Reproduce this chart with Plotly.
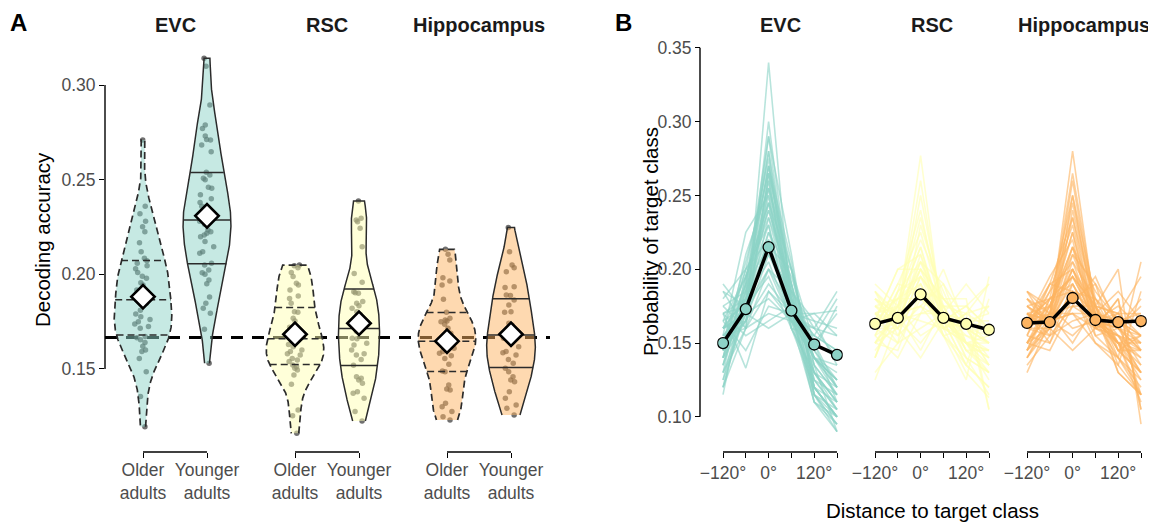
import numpy as np
import plotly.graph_objects as go

# ---------------- data ----------------
regions = ["EVC", "RSC", "Hippocampus"]
group_labels = ["Older<br>adults", "Younger<br>adults"]
chance = 1 / 6
acc_ticks = [0.15, 0.20, 0.25, 0.30]
acc_ticktext = ["0.15", "0.20", "0.25", "0.30"]

evc_older = [0.1195, 0.1354, 0.1486, 0.1556, 0.1592, 0.160, 0.162, 0.164, 0.1655, 0.1665,
             0.1671, 0.1715, 0.1724, 0.1738, 0.175, 0.1762, 0.1776, 0.179, 0.181, 0.1835,
             0.1847, 0.186, 0.188, 0.1917, 0.1944, 0.1955, 0.1979, 0.199, 0.201, 0.203, 0.2045,
             0.2058, 0.2072, 0.2085, 0.212, 0.2167, 0.2225, 0.2252, 0.228, 0.232, 0.236, 0.271]
evc_younger = [0.3141, 0.310, 0.2895, 0.2789, 0.2771, 0.2731, 0.2713, 0.271, 0.2683, 0.2648, 0.2539,
               0.2508, 0.240, 0.236, 0.2525, 0.250, 0.246, 0.2455, 0.242, 0.238, 0.2357, 0.233,
               0.231, 0.229, 0.228, 0.2265, 0.2234, 0.2225, 0.2217, 0.2208, 0.2199, 0.2173, 0.2146,
               0.212, 0.2111, 0.2058, 0.2049, 0.2023, 0.2009, 0.200, 0.197, 0.195, 0.188, 0.1847,
               0.1821, 0.1794, 0.171, 0.153]
rsc_older = [0.2049, 0.2046, 0.2035, 0.201, 0.1988, 0.1953, 0.1944, 0.1917, 0.1886, 0.1873, 0.1847,
             0.1803, 0.18, 0.1768, 0.1754, 0.172, 0.1715, 0.1706, 0.168, 0.1665, 0.1653, 0.163,
             0.1618, 0.160, 0.1592, 0.158, 0.1574, 0.1556, 0.1548, 0.1539, 0.1521, 0.1512, 0.1504,
             0.1495, 0.1468, 0.1419, 0.1283, 0.1253, 0.116]
rsc_younger = [0.2387, 0.2296, 0.2287, 0.2278, 0.2243, 0.2146, 0.2005, 0.1958, 0.1908, 0.1903,
               0.19, 0.1856, 0.1847, 0.1834, 0.1821, 0.1803, 0.1789, 0.1732, 0.1706, 0.170, 0.1662,
               0.166, 0.1636, 0.1627, 0.16, 0.158, 0.1574, 0.155, 0.152, 0.1459, 0.1451, 0.1442,
               0.1424, 0.138, 0.1372, 0.1345, 0.1275, 0.1225]
hip_older = [0.2132, 0.2106, 0.2076, 0.1982, 0.1965, 0.1944, 0.1868, 0.18, 0.1768, 0.1759,
             0.1754, 0.175, 0.1736, 0.1715, 0.1689, 0.1676, 0.1662, 0.1645, 0.163, 0.1609, 0.1592,
             0.1583, 0.157, 0.1556, 0.1525, 0.1489, 0.1486, 0.1415, 0.1394, 0.1389, 0.1319, 0.1301,
             0.1275, 0.1248, 0.1231]
hip_younger = [0.2247, 0.212, 0.2049, 0.2035, 0.2014, 0.1935, 0.193, 0.1891, 0.1888, 0.1865,
               0.1838, 0.1803, 0.18, 0.1741, 0.1732, 0.170, 0.168, 0.1671, 0.1662, 0.165, 0.1618,
               0.1592, 0.1586, 0.1574, 0.155, 0.153, 0.1504, 0.1486, 0.1459, 0.1442, 0.1433, 0.138,
               0.1345, 0.131, 0.1292, 0.1257]

distances = [-120, -60, 0, 60, 120, 180]
dist_ticktext = ["\u2212120°", "", "0°", "", "120°", ""]
prob_ticks = [0.10, 0.15, 0.20, 0.25, 0.30, 0.35]
prob_ticktext = ["0.10", "0.15", "0.20", "0.25", "0.30", "0.35"]

evc_mean = [0.150, 0.173, 0.215, 0.172, 0.149, 0.142]
rsc_mean = [0.163, 0.167, 0.183, 0.167, 0.163, 0.159]
hip_mean = [0.1636, 0.1642, 0.1805, 0.1656, 0.1642, 0.1649]

evc_subjects = [
    [0.120, 0.160, 0.340, 0.170, 0.115, 0.095], [0.130, 0.170, 0.300, 0.180, 0.120, 0.100],
    [0.140, 0.190, 0.280, 0.170, 0.120, 0.100], [0.150, 0.200, 0.275, 0.165, 0.110, 0.100],
    [0.125, 0.185, 0.270, 0.190, 0.125, 0.105], [0.145, 0.180, 0.260, 0.180, 0.130, 0.105],
    [0.140, 0.210, 0.255, 0.175, 0.115, 0.105], [0.155, 0.175, 0.250, 0.170, 0.135, 0.115],
    [0.130, 0.195, 0.245, 0.200, 0.120, 0.110], [0.150, 0.185, 0.240, 0.185, 0.125, 0.115],
    [0.160, 0.170, 0.235, 0.175, 0.140, 0.120], [0.145, 0.200, 0.230, 0.165, 0.140, 0.120],
    [0.135, 0.180, 0.225, 0.195, 0.145, 0.120], [0.165, 0.175, 0.220, 0.170, 0.140, 0.130],
    [0.150, 0.190, 0.215, 0.180, 0.140, 0.125], [0.140, 0.165, 0.210, 0.185, 0.160, 0.140],
    [0.160, 0.180, 0.205, 0.165, 0.150, 0.140], [0.155, 0.170, 0.200, 0.175, 0.155, 0.145],
    [0.170, 0.175, 0.195, 0.160, 0.155, 0.145], [0.150, 0.165, 0.190, 0.170, 0.165, 0.160],
    [0.175, 0.160, 0.185, 0.165, 0.160, 0.155], [0.160, 0.170, 0.180, 0.165, 0.170, 0.155],
    [0.165, 0.145, 0.175, 0.170, 0.160, 0.185], [0.185, 0.160, 0.170, 0.165, 0.150, 0.170],
    [0.170, 0.155, 0.165, 0.175, 0.155, 0.180], [0.190, 0.170, 0.160, 0.170, 0.145, 0.175],
    [0.170, 0.133, 0.185, 0.170, 0.170, 0.172], [0.145, 0.165, 0.265, 0.200, 0.135, 0.090],
    [0.120, 0.175, 0.290, 0.210, 0.115, 0.090], [0.155, 0.225, 0.250, 0.170, 0.110, 0.090],
    [0.115, 0.190, 0.270, 0.205, 0.120, 0.100], [0.135, 0.185, 0.280, 0.185, 0.115, 0.100],
    [0.160, 0.195, 0.235, 0.190, 0.120, 0.100], [0.145, 0.175, 0.255, 0.185, 0.130, 0.110],
    [0.175, 0.185, 0.230, 0.160, 0.130, 0.120], [0.130, 0.160, 0.265, 0.190, 0.140, 0.115],
    [0.165, 0.195, 0.245, 0.165, 0.125, 0.105], [0.125, 0.170, 0.255, 0.200, 0.135, 0.115],
    [0.180, 0.200, 0.220, 0.160, 0.130, 0.110], [0.140, 0.175, 0.215, 0.200, 0.150, 0.120],
    [0.155, 0.160, 0.200, 0.185, 0.165, 0.135], [0.120, 0.180, 0.260, 0.175, 0.140, 0.125],
    [0.150, 0.205, 0.265, 0.160, 0.120, 0.100], [0.160, 0.165, 0.225, 0.180, 0.145, 0.125],
    [0.135, 0.195, 0.240, 0.190, 0.130, 0.110], [0.170, 0.180, 0.210, 0.175, 0.140, 0.125],
    [0.145, 0.170, 0.245, 0.180, 0.150, 0.110], [0.185, 0.175, 0.200, 0.165, 0.140, 0.135],
    [0.140, 0.190, 0.290, 0.175, 0.110, 0.095], [0.160, 0.180, 0.270, 0.180, 0.115, 0.095],
]
rsc_subjects = [
    [0.150, 0.170, 0.277, 0.160, 0.130, 0.113], [0.155, 0.185, 0.240, 0.165, 0.135, 0.120],
    [0.160, 0.190, 0.225, 0.170, 0.140, 0.115], [0.170, 0.175, 0.215, 0.160, 0.150, 0.130],
    [0.165, 0.200, 0.210, 0.155, 0.140, 0.130], [0.180, 0.170, 0.205, 0.175, 0.140, 0.130],
    [0.155, 0.165, 0.200, 0.180, 0.160, 0.140], [0.175, 0.160, 0.195, 0.170, 0.155, 0.145],
    [0.160, 0.175, 0.190, 0.165, 0.160, 0.150], [0.185, 0.165, 0.185, 0.160, 0.155, 0.150],
    [0.170, 0.180, 0.180, 0.170, 0.150, 0.150], [0.150, 0.160, 0.175, 0.190, 0.165, 0.160],
    [0.165, 0.155, 0.170, 0.175, 0.175, 0.160], [0.175, 0.170, 0.165, 0.160, 0.170, 0.160],
    [0.160, 0.150, 0.160, 0.170, 0.190, 0.170], [0.190, 0.175, 0.155, 0.165, 0.160, 0.155],
    [0.180, 0.165, 0.150, 0.170, 0.165, 0.170], [0.165, 0.170, 0.145, 0.175, 0.170, 0.175],
    [0.170, 0.160, 0.140, 0.165, 0.175, 0.190], [0.155, 0.140, 0.170, 0.200, 0.160, 0.175],
    [0.130, 0.150, 0.230, 0.180, 0.160, 0.150], [0.125, 0.165, 0.250, 0.170, 0.150, 0.140],
    [0.140, 0.180, 0.220, 0.185, 0.150, 0.125], [0.165, 0.200, 0.200, 0.160, 0.170, 0.105],
    [0.160, 0.175, 0.200, 0.180, 0.180, 0.105], [0.180, 0.170, 0.175, 0.155, 0.125, 0.195],
    [0.140, 0.185, 0.195, 0.160, 0.165, 0.155], [0.150, 0.145, 0.185, 0.160, 0.170, 0.190],
    [0.185, 0.155, 0.190, 0.155, 0.135, 0.180], [0.145, 0.165, 0.205, 0.190, 0.150, 0.145],
    [0.165, 0.180, 0.195, 0.175, 0.150, 0.135], [0.175, 0.165, 0.210, 0.170, 0.145, 0.135],
    [0.150, 0.175, 0.215, 0.165, 0.160, 0.135], [0.185, 0.170, 0.175, 0.165, 0.150, 0.155],
    [0.160, 0.160, 0.185, 0.180, 0.165, 0.150], [0.140, 0.175, 0.235, 0.175, 0.145, 0.130],
    [0.170, 0.150, 0.180, 0.165, 0.175, 0.160], [0.155, 0.185, 0.205, 0.165, 0.150, 0.140],
    [0.175, 0.180, 0.190, 0.160, 0.150, 0.145], [0.165, 0.165, 0.170, 0.170, 0.165, 0.165],
    [0.150, 0.170, 0.260, 0.165, 0.135, 0.120], [0.180, 0.160, 0.195, 0.175, 0.145, 0.145],
    [0.160, 0.190, 0.185, 0.155, 0.160, 0.150], [0.170, 0.165, 0.200, 0.170, 0.160, 0.135],
]
hip_subjects = [
    [0.140, 0.165, 0.280, 0.170, 0.130, 0.115], [0.150, 0.180, 0.250, 0.165, 0.140, 0.115],
    [0.155, 0.190, 0.235, 0.175, 0.130, 0.115], [0.160, 0.170, 0.225, 0.160, 0.155, 0.130],
    [0.165, 0.195, 0.220, 0.155, 0.140, 0.125], [0.170, 0.175, 0.210, 0.170, 0.150, 0.125],
    [0.145, 0.165, 0.205, 0.180, 0.160, 0.145], [0.175, 0.160, 0.200, 0.165, 0.155, 0.145],
    [0.160, 0.175, 0.195, 0.165, 0.160, 0.145], [0.180, 0.165, 0.190, 0.160, 0.155, 0.150],
    [0.165, 0.180, 0.185, 0.170, 0.150, 0.150], [0.150, 0.160, 0.180, 0.190, 0.165, 0.155],
    [0.170, 0.155, 0.175, 0.175, 0.170, 0.155], [0.180, 0.170, 0.170, 0.160, 0.165, 0.155],
    [0.160, 0.155, 0.165, 0.170, 0.185, 0.165], [0.185, 0.175, 0.160, 0.165, 0.160, 0.155],
    [0.175, 0.165, 0.155, 0.170, 0.165, 0.170], [0.165, 0.170, 0.150, 0.175, 0.170, 0.170],
    [0.170, 0.160, 0.145, 0.160, 0.170, 0.195], [0.150, 0.145, 0.175, 0.195, 0.160, 0.175],
    [0.135, 0.155, 0.240, 0.175, 0.155, 0.140], [0.130, 0.165, 0.260, 0.170, 0.145, 0.130],
    [0.145, 0.175, 0.215, 0.185, 0.165, 0.115], [0.165, 0.190, 0.200, 0.160, 0.180, 0.105],
    [0.160, 0.170, 0.200, 0.175, 0.200, 0.095], [0.170, 0.165, 0.170, 0.150, 0.140, 0.205],
    [0.145, 0.180, 0.195, 0.165, 0.170, 0.145], [0.155, 0.150, 0.190, 0.165, 0.160, 0.180],
    [0.185, 0.160, 0.185, 0.150, 0.135, 0.185], [0.140, 0.160, 0.210, 0.190, 0.145, 0.155],
    [0.160, 0.185, 0.230, 0.165, 0.150, 0.110], [0.150, 0.170, 0.245, 0.175, 0.140, 0.120],
    [0.165, 0.180, 0.195, 0.175, 0.150, 0.135], [0.175, 0.165, 0.215, 0.170, 0.145, 0.130],
    [0.150, 0.175, 0.225, 0.165, 0.155, 0.130], [0.185, 0.170, 0.175, 0.165, 0.150, 0.155],
    [0.160, 0.160, 0.185, 0.180, 0.165, 0.150], [0.140, 0.170, 0.265, 0.175, 0.135, 0.115],
    [0.170, 0.150, 0.180, 0.165, 0.175, 0.160], [0.155, 0.185, 0.205, 0.165, 0.150, 0.140],
    [0.175, 0.180, 0.190, 0.160, 0.150, 0.145], [0.165, 0.165, 0.170, 0.170, 0.165, 0.165],
    [0.150, 0.170, 0.235, 0.165, 0.150, 0.130], [0.180, 0.160, 0.195, 0.175, 0.145, 0.145],
    [0.160, 0.190, 0.185, 0.155, 0.160, 0.150], [0.170, 0.165, 0.200, 0.170, 0.160, 0.135],
    [0.145, 0.160, 0.250, 0.180, 0.150, 0.115], [0.165, 0.175, 0.215, 0.160, 0.180, 0.105],
]

accuracy = {"EVC": [evc_older, evc_younger], "RSC": [rsc_older, rsc_younger],
            "Hippocampus": [hip_older, hip_younger]}
means = {"EVC": evc_mean, "RSC": rsc_mean, "Hippocampus": hip_mean}
subjects = {"EVC": evc_subjects, "RSC": rsc_subjects, "Hippocampus": hip_subjects}

# ---------------- styling / layout helpers ----------------
# the page body has an 8px margin, so the figure starts at (8, 8) in the window
OFF = 8
W, H = 1156 - OFF, 524 - OFF
def px(x): return (x - OFF) / W
def py(y): return 1 - (y - OFF) / H

region_col = {"EVC": (141, 211, 199), "RSC": (255, 255, 179), "Hippocampus": (253, 180, 98)}
def rgba(c, a): return f"rgba({c[0]},{c[1]},{c[2]},{a})"
def hexc(c): return "#%02X%02X%02X" % c

FONT = "Liberation Sans, Arial, sans-serif"
TICK_COL = "#4D4D4D"

facet_pos = {"EVC": (0.0, 1.0), "RSC": (2.375, 3.375), "Hippocampus": (4.75, 5.75)}
HALF_MAX = 0.45

def ydensity(vals, n=512):
    v = np.asarray(vals, float)
    m = len(v)
    sd = v.std(ddof=1)
    q75, q25 = np.percentile(v, [75, 25])
    bw = 0.9 * min(sd, (q75 - q25) / 1.34) * m ** (-0.2)
    grid = np.linspace(v.min(), v.max(), n)
    d = np.exp(-0.5 * ((grid[:, None] - v[None, :]) / bw) ** 2).sum(1) / (m * bw * np.sqrt(2 * np.pi))
    return grid, d

fig = go.Figure()

# ---------------- Panel A ----------------
for reg in regions:
    dens = [ydensity(g) for g in accuracy[reg]]
    dmax = max(d.max() for _, d in dens)
    for gi, (vals, (grid, d)) in enumerate(zip(accuracy[reg], dens)):
        pos = facet_pos[reg][gi]
        half = HALF_MAX * d / dmax
        dash = "7px,4px" if gi == 0 else "solid"
        lw = 1.7 if gi == 0 else 1.5
        xs = np.concatenate([pos + half, (pos - half)[::-1]])
        ys = np.concatenate([grid, grid[::-1]])
        fig.add_trace(go.Scatter(x=xs, y=ys, mode="lines", fill="toself",
                                 fillcolor=rgba(region_col[reg], 0.5),
                                 line=dict(color="#2b2b2b", width=lw, dash=dash),
                                 hoverinfo="skip", showlegend=False, xaxis="x", yaxis="y"))
        cdf = np.cumsum(d); cdf = cdf / cdf[-1]
        yq = np.interp([0.25, 0.5, 0.75], cdf, grid)
        wq = np.interp(yq, grid, half)
        qx, qy = [], []
        for yy, ww in zip(yq, wq):
            qx += [pos - ww, pos + ww, None]
            qy += [yy, yy, None]
        fig.add_trace(go.Scatter(x=qx, y=qy, mode="lines",
                                 line=dict(color="#2b2b2b", width=1.5, dash=dash),
                                 hoverinfo="skip", showlegend=False, xaxis="x", yaxis="y"))

for reg in regions:
    for gi, vals in enumerate(accuracy[reg]):
        pos = facet_pos[reg][gi]
        fig.add_trace(go.Box(x=[pos] * len(vals), y=vals, boxpoints="all", jitter=0.65,
                             pointpos=0, width=0.42, whiskerwidth=0,
                             fillcolor="rgba(0,0,0,0)",
                             line=dict(color="rgba(0,0,0,0)", width=0),
                             marker=dict(size=5.5, color="rgba(45,45,45,0.68)"),
                             hoverinfo="skip", showlegend=False, xaxis="x", yaxis="y"))

for reg in regions:
    for gi, vals in enumerate(accuracy[reg]):
        pos = facet_pos[reg][gi]
        fig.add_trace(go.Scatter(x=[pos], y=[float(np.mean(vals))], mode="markers",
                                 marker=dict(symbol="diamond", size=18, color="white",
                                             line=dict(color="black", width=2.6)),
                                 hoverinfo="skip", showlegend=False, xaxis="x5", yaxis="y5"))

# ---------------- Panel B ----------------
xaxes_b = {"EVC": "x2", "RSC": "x3", "Hippocampus": "x4"}
for reg in regions:
    for s in subjects[reg]:
        fig.add_trace(go.Scatter(x=distances, y=s, mode="lines",
                                 line=dict(color=rgba(region_col[reg], 0.62), width=1.6),
                                 hoverinfo="skip", showlegend=False,
                                 xaxis=xaxes_b[reg], yaxis="y2"))
for reg in regions:
    fig.add_trace(go.Scatter(x=distances, y=means[reg], mode="lines+markers",
                             line=dict(color="black", width=3.5),
                             marker=dict(size=11, color=hexc(region_col[reg]),
                                         line=dict(color="black", width=1.3)),
                             hoverinfo="skip", showlegend=False,
                             xaxis=xaxes_b[reg], yaxis="y2"))

# ---------------- axes ----------------
tickfont = dict(family=FONT, size=17.5, color=TICK_COL)
a_range = [(105 - 143) / 64, (555 - 143) / 64]
a_yrange = [0.11, 0.32]
axis_common = dict(showgrid=False, zeroline=False, showline=False, ticks="outside",
                   ticklen=5, tickwidth=1.2, tickcolor="black", tickfont=tickfont,
                   automargin=False)

tickvals_a, ticktext_a = [], []
for reg in regions:
    for gi in range(2):
        tickvals_a.append(facet_pos[reg][gi])
        ticktext_a.append(group_labels[gi])

b_range = [-135, 195]
layout = dict(
    width=W, height=H, margin=dict(l=0, r=0, t=0, b=0, autoexpand=False),
    paper_bgcolor="white", plot_bgcolor="rgba(0,0,0,0)",
    font=dict(family=FONT, color="black"),
    showlegend=False,
    xaxis=dict(domain=[px(105), px(555)], range=a_range, anchor="free", position=py(452),
               tickmode="array", tickvals=tickvals_a, ticktext=ticktext_a,
               ticklabelstandoff=-3, **axis_common),
    yaxis=dict(domain=[py(444.7), py(47.2)], range=a_yrange, anchor="x",
               tickmode="array", tickvals=acc_ticks, ticktext=acc_ticktext, **axis_common),
    xaxis5=dict(overlaying="x", range=a_range, visible=False, anchor="y5", automargin=False),
    yaxis5=dict(overlaying="y", range=a_yrange, visible=False, anchor="x5", automargin=False),
    yaxis2=dict(domain=[py(439), py(40.4)], range=[0.085, 0.355], anchor="free", position=px(700),
                tickmode="array", tickvals=prob_ticks, ticktext=prob_ticktext, **axis_common),
)
b_domains = {"EVC": (717.3, 842.7), "RSC": (869.3, 994.7), "Hippocampus": (1021.3, 1146.7)}
for reg in regions:
    key = "xaxis" + xaxes_b[reg][1:]
    d0, d1 = b_domains[reg]
    layout[key] = dict(domain=[px(d0), px(d1)], range=b_range, anchor="free", position=py(452),
                       tickmode="array", tickvals=distances, ticktext=dist_ticktext, **axis_common)
fig.update_layout(**layout)

# ---------------- axis lines & reference line ----------------
shapes = []
line_k = dict(color="black", width=1.4)
shapes.append(dict(type="line", xref="paper", yref="y", x0=px(105), x1=px(105),
                   y0=acc_ticks[0], y1=acc_ticks[-1], line=line_k))
shapes.append(dict(type="line", xref="paper", yref="y2", x0=px(700), x1=px(700),
                   y0=prob_ticks[0], y1=prob_ticks[-1], line=line_k))
for reg in regions:
    p0, p1 = facet_pos[reg]
    shapes.append(dict(type="line", xref="x", yref="paper", x0=p0, x1=p1,
                       y0=py(452), y1=py(452), line=line_k))
    shapes.append(dict(type="line", xref=xaxes_b[reg], yref="paper", x0=distances[0],
                       x1=distances[-1], y0=py(452), y1=py(452), line=line_k))
shapes.append(dict(type="line", xref="paper", yref="y", x0=px(105), x1=px(550),
                   y0=chance, y1=chance, layer="below",
                   line=dict(color="black", width=3, dash="12px,9px")))
fig.update_layout(shapes=shapes)

# ---------------- text ----------------
ann = []
def text(x, y, s, size, bold=False, color="black", angle=0, xref="paper"):
    ann.append(dict(x=x, y=y, xref=xref, yref="paper", text=f"<b>{s}</b>" if bold else s,
                    showarrow=False, xanchor="center", yanchor="middle", textangle=angle,
                    font=dict(family=FONT, size=size, color=color)))

text(px(18), py(22), "A", 24, bold=True)
text(px(623), py(22), "B", 24, bold=True)
for reg in regions:
    p0, p1 = facet_pos[reg]
    text((p0 + p1) / 2, py(25), reg, 20, bold=True, color="#1A1A1A", xref="x")
    text((distances[0] + distances[-1]) / 2, py(25), reg, 20, bold=True, color="#1A1A1A",
         xref=xaxes_b[reg])
text(px(42), py(240), "Decoding accuracy", 20.5, angle=-90)
text(px(651), py(242), "Probability of target class", 20.5, angle=-90)
text(px(932), py(510), "Distance to target class", 20.5)
fig.update_layout(annotations=ann)

fig.write_html("out.html")
